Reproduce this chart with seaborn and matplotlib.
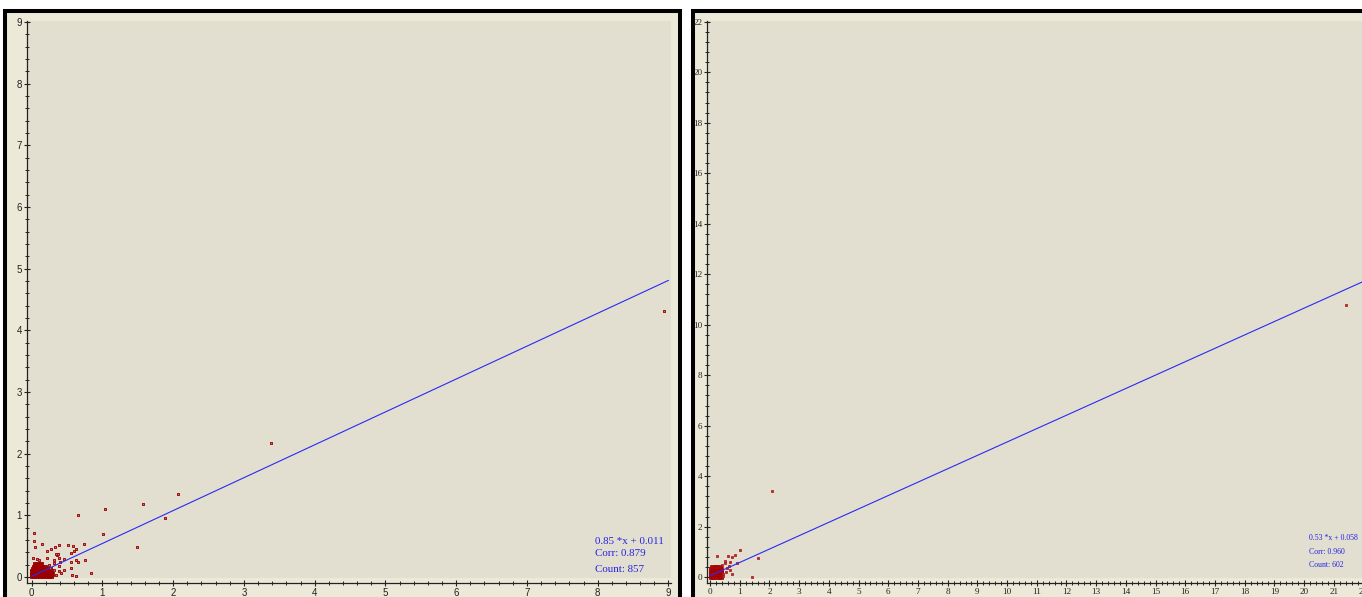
import matplotlib
matplotlib.use("Agg")
import matplotlib.pyplot as plt
from matplotlib.patches import Rectangle
from matplotlib.ticker import MultipleLocator
import seaborn as sns

W, H = 1362, 597

# ---- panel A: dense core near the origin ----
a_core_x = [0.00, 0.04, 0.08, 0.12, 0.16, 0.20, 0.24, 0.28,
            0.01, 0.05, 0.09, 0.13, 0.17, 0.21, 0.25, 0.29,
            0.00, 0.04, 0.08, 0.12, 0.16, 0.20, 0.24, 0.28,
            0.02, 0.06, 0.10, 0.14, 0.18, 0.22, 0.26,
            0.03, 0.07, 0.11, 0.15, 0.19,
            0.05, 0.09, 0.13]
a_core_y = [0.01, 0.01, 0.01, 0.01, 0.01, 0.01, 0.01, 0.01,
            0.05, 0.05, 0.05, 0.05, 0.05, 0.05, 0.05, 0.05,
            0.09, 0.09, 0.09, 0.09, 0.09, 0.09, 0.09, 0.09,
            0.13, 0.13, 0.13, 0.13, 0.13, 0.13, 0.13,
            0.17, 0.17, 0.17, 0.17, 0.17,
            0.21, 0.21, 0.21]
# ---- panel A: scattered values ----
a_x = [0.04, 0.04, 0.05, 0.14, 0.02, 0.07, 0.11, 0.21, 0.22, 0.28, 0.31, 0.33, 0.38, 0.36,
       0.38, 0.32, 0.25, 0.26, 0.31, 0.34, 0.38, 0.42, 0.46, 0.46, 0.51, 0.55, 0.55, 0.56,
       0.57, 0.59, 0.60, 0.63, 0.62, 0.66, 0.62, 0.66, 0.74, 0.75, 0.84, 1.01, 1.04, 1.49,
       1.57, 1.89, 2.07, 0.39, 0.40, 0.37, 0.35, 3.38, 8.94]
a_y = [0.72, 0.58, 0.48, 0.53, 0.31, 0.29, 0.27, 0.42, 0.31, 0.46, 0.28, 0.48, 0.52, 0.35,
       0.31, 0.22, 0.19, 0.15, 0.11, 0.03, 0.09, 0.07, 0.12, 0.30, 0.52, 0.39, 0.24, 0.15,
       0.04, 0.51, 0.42, 0.46, 0.28, 0.25, 0.01, 1.01, 0.54, 0.27, 0.07, 0.69, 1.11, 0.49,
       1.19, 0.95, 1.35, 0.18, 0.24, 0.37, 0.38, 2.17, 4.31]
a_fit_x = [0.0, 9.0]
a_fit_y = [0.011, 4.81]
a_stats = ["0.85 *x + 0.011", "Corr: 0.879", "Count: 857"]

# ---- panel B: dense core near the origin ----
b_core_x = [0.02, 0.11, 0.20, 0.29, 0.38,
            0.02, 0.11, 0.20, 0.29, 0.38,
            0.02, 0.11, 0.20, 0.29, 0.38,
            0.02, 0.11, 0.20, 0.29, 0.38,
            0.06, 0.15, 0.24, 0.33]
b_core_y = [0.02, 0.02, 0.02, 0.02, 0.02,
            0.12, 0.12, 0.12, 0.12, 0.12,
            0.22, 0.22, 0.22, 0.22, 0.22,
            0.32, 0.32, 0.32, 0.32, 0.32,
            0.42, 0.42, 0.42, 0.42]
# ---- panel B: scattered values ----
b_x = [0.23, 0.60, 0.74, 0.83, 1.02, 0.89, 1.63, 1.40, 0.74, 0.63, 0.57, 0.49, 0.40, 0.68,
       0.54, 0.45, 0.66, 0.42, 0.50, 2.09, 21.4]
b_y = [0.84, 0.86, 0.79, 0.88, 1.10, 0.58, 0.75, 0.03, 0.13, 0.45, 0.36, 0.55, 0.49, 0.62,
       0.20, 0.12, 0.30, 0.05, 0.66, 3.40, 10.8]
b_slope, b_intercept = 0.53, 0.058
b_stats = ["0.53 *x + 0.058", "Corr: 0.960", "Count: 602"]

sns.set_theme(style="white")
plt.rcParams["font.family"] = ["Liberation Sans", "DejaVu Sans"]

PANEL = "#ECE9D8"
PLOT_BG = "#E2DFD0"
LINE = "#2A2AF5"
TEXT_BLUE = "#2323E6"
TICK = "#222222"

fig = plt.figure(figsize=(W / 100, H / 100), dpi=100, facecolor="white")


def frac_rect(l, t, r, b):
    return [l / W, 1 - b / H, (r - l) / W, (b - t) / H]


def add_frame(l, t, r, b):
    x0, y0, w, h = frac_rect(l, t, r, b)
    fig.add_artist(Rectangle((x0, y0), w, h, transform=fig.transFigure,
                             facecolor=PANEL, edgecolor="black", linewidth=2.9,
                             joinstyle="miter", zorder=-5))


add_frame(5, 11, 680, 640)
add_frame(693, 11, 1420, 640)


def style_axes(ax, xmaj, xmin, ymaj, ymin, label_font, label_size, maj_len, min_len):
    ax.set_facecolor(PLOT_BG)
    for side in ("top", "right"):
        ax.spines[side].set_visible(False)
    for side in ("left", "bottom"):
        ax.spines[side].set_color(TICK)
        ax.spines[side].set_linewidth(0.9)
    ax.xaxis.set_major_locator(MultipleLocator(xmaj))
    ax.xaxis.set_minor_locator(MultipleLocator(xmin))
    ax.yaxis.set_major_locator(MultipleLocator(ymaj))
    ax.yaxis.set_minor_locator(MultipleLocator(ymin))
    ax.tick_params(which="major", direction="inout", length=maj_len, width=0.8,
                   color=TICK, labelsize=label_size, labelcolor="#222222", pad=1.2,
                   bottom=True, left=True)
    ax.tick_params(which="minor", direction="inout", length=min_len, width=0.7,
                   color=TICK, bottom=True, left=True)
    for lab in ax.get_xticklabels() + ax.get_yticklabels():
        lab.set_family(label_font)
    ax.set_xlabel("")
    ax.set_ylabel("")
    # lighter strip just above the x axis line
    ax.add_patch(Rectangle((0, 0), 1, 5 / 562, transform=ax.transAxes,
                           facecolor=PANEL, edgecolor="none", zorder=0.5))


# ---- left panel ----
ax1 = fig.add_axes(frac_rect(27, 21, 671, 583))
sns.scatterplot(x=a_core_x, y=a_core_y, ax=ax1, marker="s", s=6, color="#A00000",
                edgecolor="#9A0000", linewidth=0.6, zorder=3, legend=False)
sns.scatterplot(x=a_x, y=a_y, ax=ax1, marker="s", s=3.2, color="#C87070",
                edgecolor="#A01010", linewidth=0.7, zorder=3, legend=False)
sns.lineplot(x=a_fit_x, y=a_fit_y, ax=ax1, color=LINE, linewidth=0.8, zorder=4)
ax1.set_xlim(-0.066, 9.036)
ax1.set_ylim(-0.097, 9.016)
style_axes(ax1, 1, 0.2, 1, 0.2, "Liberation Sans", 7, 5, 3)

# ---- right panel ----
ax2 = fig.add_axes(frac_rect(707, 21, 1400, 583))
sns.scatterplot(x=b_core_x, y=b_core_y, ax=ax2, marker="s", s=5, color="#A80808",
                edgecolor="#A00000", linewidth=0.5, zorder=3, legend=False)
sns.scatterplot(x=b_x, y=b_y, ax=ax2, marker="s", s=3.5, color="#C03030",
                edgecolor="#A81010", linewidth=0.5, zorder=3, legend=False)
b_line_x = [0.0, 23.0]
b_line_y = [b_intercept + b_slope * v for v in b_line_x]
sns.lineplot(x=b_line_x, y=b_line_y, ax=ax2, color=LINE, linewidth=0.8, zorder=4)
ax2.set_xlim(-0.104, 23.23)
ax2.set_ylim(-0.226, 22.03)
style_axes(ax2, 1, 0.2, 2, 0.4, "Liberation Serif", 6.6, 4.3, 2.2)

# ---- fit statistics ----
for txt, yp in zip(a_stats, [541, 554, 569]):
    fig.text(595 / W, 1 - yp / H, txt, ha="left", va="center", color=TEXT_BLUE,
             fontsize=7.9, family="Liberation Serif")
for txt, yp in zip(b_stats, [538, 552, 565]):
    fig.text(1309 / W, 1 - yp / H, txt, ha="left", va="center", color=TEXT_BLUE,
             fontsize=5.6, family="Liberation Serif")

fig.savefig("out.png", dpi=100, facecolor="white")
